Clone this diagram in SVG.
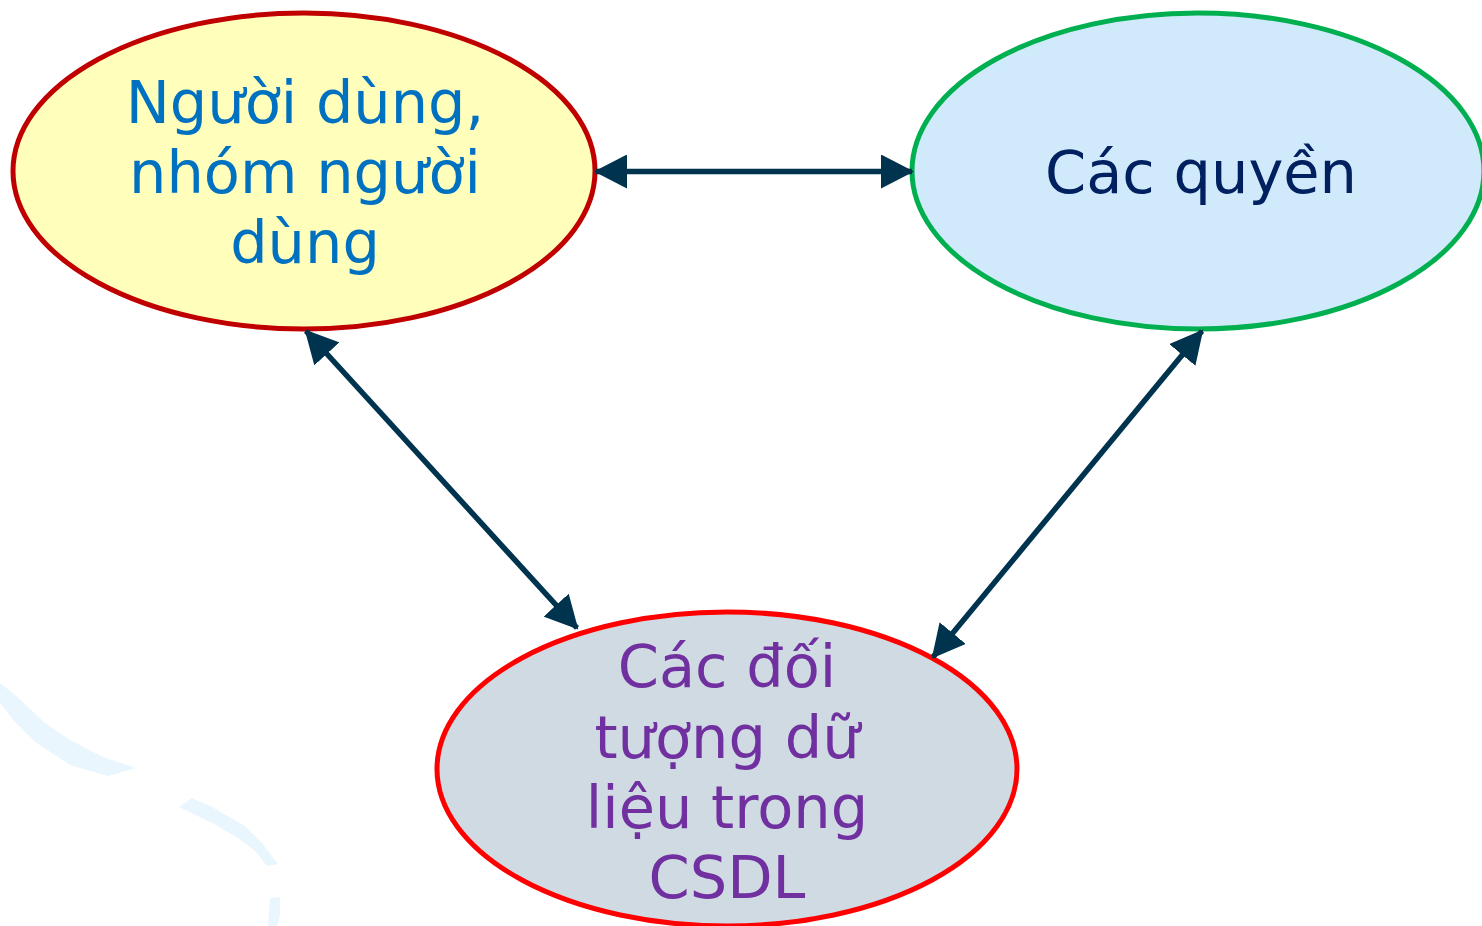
<svg xmlns="http://www.w3.org/2000/svg" width="1482" height="926" viewBox="0 0 1482 926">
<style>
  .lbl { font-family: "DejaVu Sans", Verdana, sans-serif; font-size: 59px; text-anchor: middle; }
  .conn { stroke: #00334E; stroke-width: 5.5; fill: none; marker-start: url(#ah); marker-end: url(#ah); }
  .swoosh { fill: #EAF6FE; }
  .node { stroke-width: 5; }
</style>
<defs>
  <marker id="ah" markerUnits="userSpaceOnUse" viewBox="0 0 33 34" refX="31" refY="17" markerWidth="33" markerHeight="34" orient="auto-start-reverse">
    <path d="M0,0 L33,17 L0,34 Z" fill="#00334E"/>
  </marker>
</defs>
<rect width="1482" height="926" fill="#FFFFFF"/>
<g id="background">
  <path class="swoosh" d="M0,683 L15,695 L45,723 L70,740 L103,757 L136,768 L108,776 L70,765 L35,742 L15,722 L0,703 Z"/>
  <path class="swoosh" d="M192,798 L212,807 L245,826 L262,843 L278,864 L267,866 L255,851 L238,838 L212,823 L179,807 Z"/>
  <path class="swoosh" d="M270,898 L280,897 L280,915 L277,926 L268,926 L269,910 Z"/>
</g>
<g id="node-users">
  <ellipse class="node" cx="304" cy="171" rx="291" ry="158" fill="#FFFFBB" stroke="#C00000"/>
  <text class="lbl" fill="#0070C0"><tspan x="305" y="123">Người dùng,</tspan><tspan x="305" y="193">nhóm người</tspan><tspan x="305" y="263">dùng</tspan></text>
</g>
<g id="node-rights">
  <ellipse class="node" cx="1198" cy="171" rx="286" ry="158" fill="#D0EAFC" stroke="#00B050"/>
  <text class="lbl" fill="#002060" x="1201" y="193">Các quyền</text>
</g>
<g id="node-objects">
  <ellipse class="node" cx="727" cy="769" rx="290" ry="157" fill="#D0DAE2" stroke="#FF0000"/>
  <text class="lbl" fill="#7030A0"><tspan x="727" y="687">Các đối</tspan><tspan x="727" y="758">tượng dữ</tspan><tspan x="727" y="828">liệu trong</tspan><tspan x="727" y="898">CSDL</tspan></text>
</g>
<g id="connectors">
  <line class="conn" x1="596" y1="171.5" x2="912" y2="171.5"/>
  <line class="conn" x1="306" y1="331" x2="577" y2="628"/>
  <line class="conn" x1="1202" y1="331" x2="933" y2="657"/>
</g>
</svg>
